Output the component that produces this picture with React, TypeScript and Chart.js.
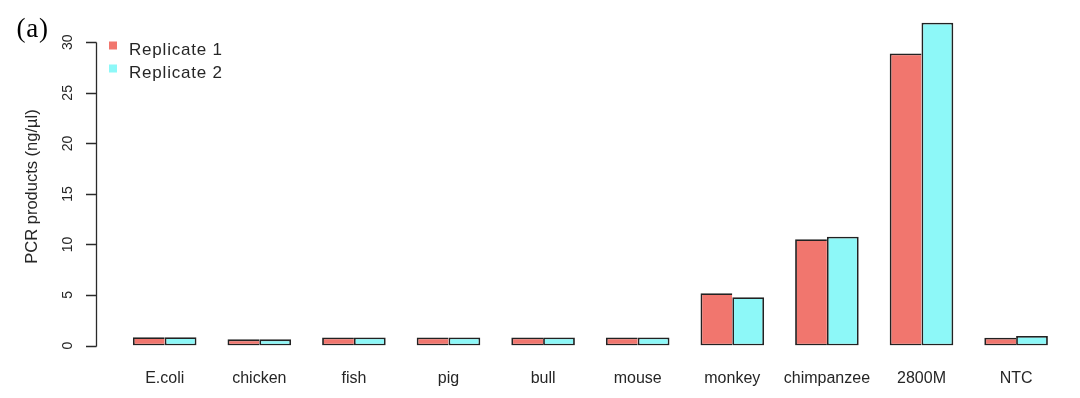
import { useEffect, useRef } from "react";
import { Chart, registerables } from "chart.js";

Chart.register(...registerables);

const categories = ["E.coli", "chicken", "fish", "pig", "bull", "mouse", "monkey", "chimpanzee", "2800M", "NTC"];
const replicate1 = [0.81, 0.61, 0.8, 0.8, 0.8, 0.8, 5.17, 10.51, 28.9, 0.77];
const replicate2 = [0.81, 0.61, 0.8, 0.8, 0.8, 0.8, 4.78, 10.76, 31.94, 0.94];
const seriesLabels = ["Replicate 1", "Replicate 2"];
const seriesColors = ["#F1766E", "#8DF8F8"];
const yTicks = [0, 5, 10, 15, 20, 25, 30];
const yTitle = "PCR products (ng/µl)";
const panelLabel = "(a)";

const W = 1080;
const H = 398;
const TEXT = "#262626";
const BORDER = "#222222";

const decorPlugin = {
  id: "decor",
  afterDraw(chart: any) {
    const ctx = chart.ctx as any;
    const y = chart.scales.y;
    const axisX = 96.5;
    ctx.save();
    ctx.strokeStyle = "#2a2a2a";
    ctx.lineWidth = 1.3;
    const y0 = Math.round(y.getPixelForValue(yTicks[0])) + 0.5;
    const y1 = Math.round(y.getPixelForValue(yTicks[yTicks.length - 1])) + 0.5;
    ctx.beginPath();
    ctx.moveTo(axisX, y0);
    ctx.lineTo(axisX, y1);
    for (const t of yTicks) {
      const py = Math.round(y.getPixelForValue(t)) + 0.5;
      ctx.moveTo(axisX, py);
      ctx.lineTo(86, py);
    }
    ctx.stroke();
    ctx.fillStyle = TEXT;
    ctx.font = "14px 'Liberation Sans', Arial, sans-serif";
    ctx.textAlign = "center";
    ctx.textBaseline = "alphabetic";
    for (const t of yTicks) {
      const py = y.getPixelForValue(t);
      ctx.save();
      ctx.translate(72, py);
      ctx.rotate(-Math.PI / 2);
      ctx.fillText(String(t), 0, 0);
      ctx.restore();
    }
    ctx.save();
    ctx.font = "16.5px 'Liberation Sans', Arial, sans-serif";
    ctx.translate(36.5, 186.5);
    ctx.rotate(-Math.PI / 2);
    ctx.fillText(yTitle, 0, 0);
    ctx.restore();
    ctx.textAlign = "left";
    ctx.font = "17px 'Liberation Sans', Arial, sans-serif";
    ctx.letterSpacing = "0.8px";
    const rows = [
      { sq: 41.5, base: 55 },
      { sq: 64.5, base: 78.3 },
    ];
    chart.data.datasets.forEach((ds: any, i: number) => {
      ctx.fillStyle = ds.backgroundColor;
      ctx.fillRect(109, rows[i].sq, 8, 8);
      ctx.fillStyle = TEXT;
      ctx.fillText(ds.label, 129, rows[i].base);
    });
    ctx.fillStyle = "#000";
    ctx.letterSpacing = "0.8px";
    ctx.font = "27px 'Liberation Serif', 'Times New Roman', serif";
    ctx.fillText(panelLabel, 16.5, 36.5);
    ctx.restore();
  },
};

export default function App() {
  const ref = useRef<HTMLCanvasElement | null>(null);
  useEffect(() => {
    if (!ref.current) return;
    const chart = new Chart(ref.current, {
      type: "bar",
      data: {
        labels: categories,
        datasets: [
          {
            label: seriesLabels[0],
            data: replicate1,
            backgroundColor: seriesColors[0],
            borderColor: BORDER,
            borderWidth: { top: 1.8, left: 1.8, bottom: 1.8, right: 0 },
            borderSkipped: false,
          },
          {
            label: seriesLabels[1],
            data: replicate2,
            backgroundColor: seriesColors[1],
            borderColor: BORDER,
            borderWidth: 1.8,
            borderSkipped: false,
          },
        ],
      },
      options: {
        responsive: false,
        animation: false,
        devicePixelRatio: 1,
        layout: { padding: { top: 10, right: 16.6, left: 0, bottom: 0 } },
        plugins: { legend: { display: false }, tooltip: { enabled: false } },
        datasets: { bar: { categoryPercentage: 0.672, barPercentage: 1 } },
        scales: {
          x: {
            grid: { display: false, drawTicks: false },
            border: { display: false },
            ticks: {
              color: TEXT,
              font: { family: "'Liberation Sans', Arial, sans-serif", size: 16 },
              padding: 23,
              maxRotation: 0,
              autoSkip: false,
            },
            afterFit: (s: any) => {
              s.height = 52.5;
            },
          },
          y: {
            min: 0,
            max: 33.2,
            grid: { display: false, drawTicks: false },
            border: { display: false },
            ticks: { display: false },
            afterBuildTicks: (s: any) => {
              s.ticks = yTicks.map((v) => ({ value: v }));
            },
            afterFit: (s: any) => {
              s.width = 117.4;
            },
          },
        },
      },
      plugins: [decorPlugin],
    });
    return () => chart.destroy();
  }, []);
  return (
    <div style={{ position: "absolute", left: 0, top: 0, width: W, height: H, background: "#fff" }}>
      <canvas ref={ref} width={W} height={H} />
    </div>
  );
}
